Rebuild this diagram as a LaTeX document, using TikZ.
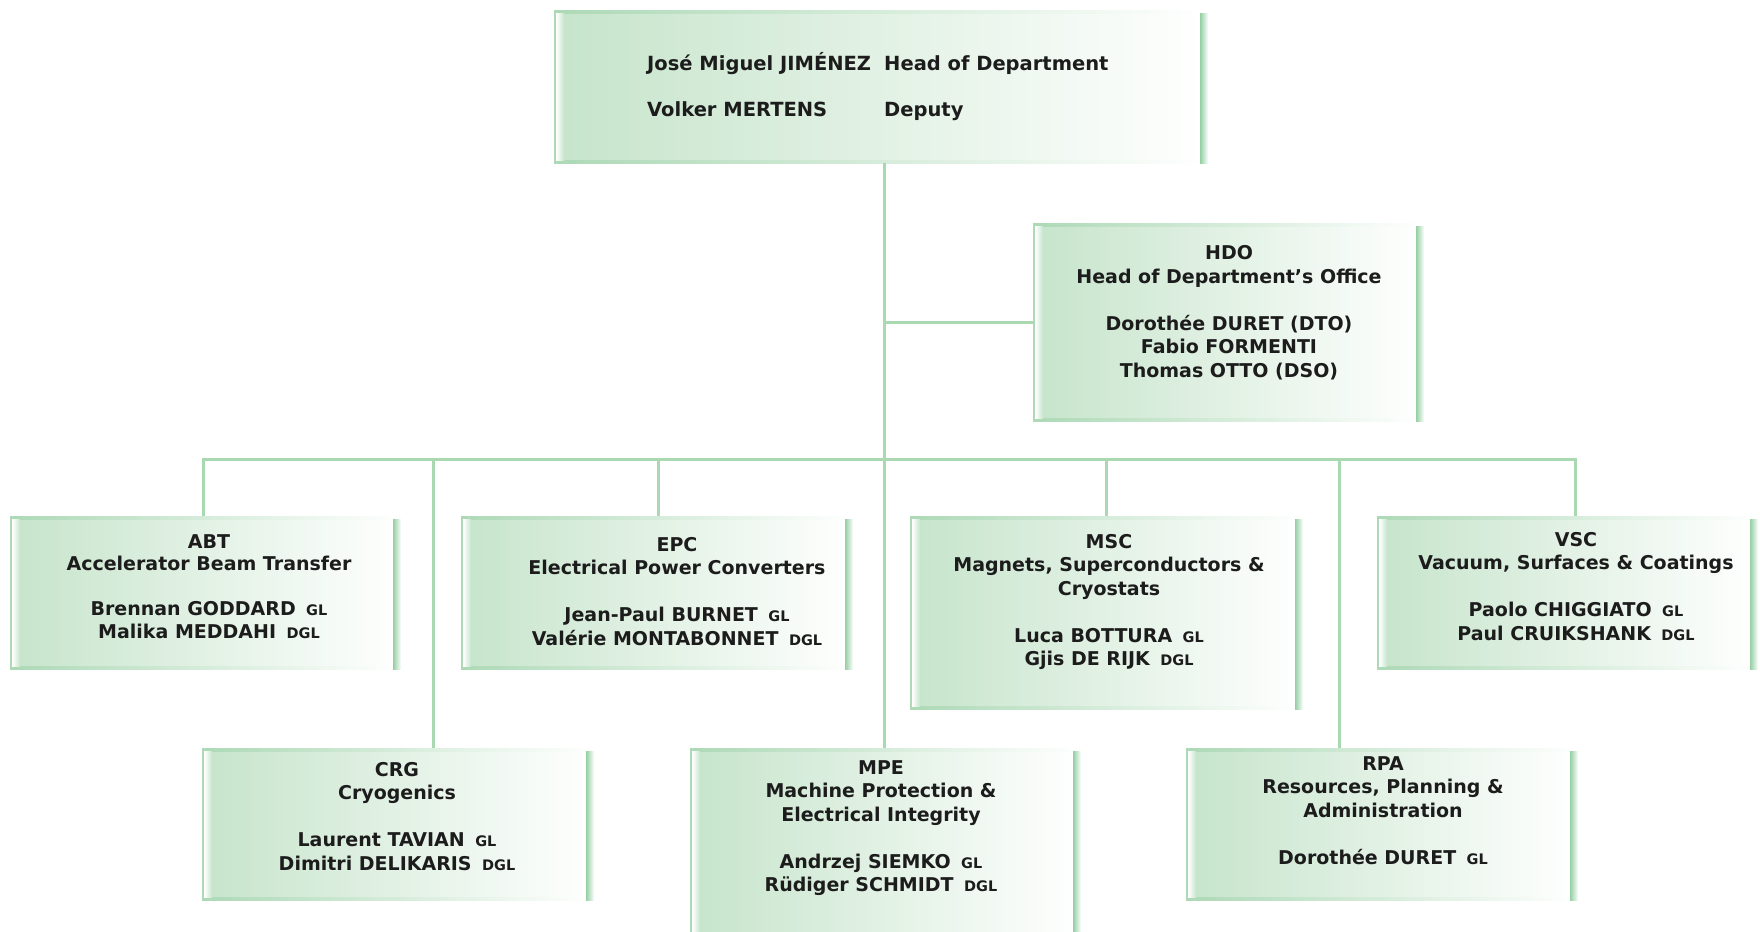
\documentclass[tikz,border=0pt]{standalone}
\usepackage{fontspec}
\setmainfont{DejaVu Sans}
\definecolor{boxgreen}{HTML}{C6E4CB}
\definecolor{edgegreen}{HTML}{ADD9B6}
\definecolor{banddark}{HTML}{98D0A6}
\definecolor{linegreen}{HTML}{A9D8B1}
\definecolor{ink}{HTML}{1C1C1C}
\newcommand{\rolesz}[1]{\hspace{0.55em}{\fontsize{14.5}{15}\selectfont #1}}
\tikzset{
  unitbox/.style={left color=boxgreen, right color=white, inner sep=0pt, anchor=north west,
    path picture={
      \shade[left color=edgegreen, right color=white]
        (path picture bounding box.north west) rectangle ([yshift=-3pt]path picture bounding box.north east);
      \shade[left color=edgegreen, right color=white]
        ([yshift=2.5pt]path picture bounding box.south west) rectangle (path picture bounding box.south east);
      \fill[edgegreen]
        (path picture bounding box.north west) rectangle ([xshift=2pt]path picture bounding box.south west);
      \shade[left color=white, right color=boxgreen]
        ([xshift=2pt,yshift=-3pt]path picture bounding box.north west) rectangle ([xshift=10pt,yshift=2.5pt]path picture bounding box.south west);
      \fill[white]
        ([xshift=-9pt]path picture bounding box.north east) rectangle (path picture bounding box.south east);
      \shade[left color=banddark, right color=white]
        ([xshift=-8pt,yshift=-3pt]path picture bounding box.north east) rectangle (path picture bounding box.south east);
    }},
  unittext/.style={text=ink, font=\bfseries\fontsize{19}{23.5}\selectfont, align=center, inner sep=0pt},
  headtext/.style={text=ink, font=\bfseries\fontsize{19.5}{23.5}\selectfont, anchor=base west, inner sep=0pt},
  conn/.style={draw=linegreen, line width=3pt}
}
\begin{document}
\begin{tikzpicture}[x=1pt,y=-1pt]
\useasboundingbox (0,0) rectangle (1760,931);
% boxes
\node[unitbox, minimum width=654pt, minimum height=153pt] (top) at (554,10) {};
\node[unitbox, minimum width=391pt, minimum height=198pt] (hdo) at (1033,223) {};
\node[unitbox, minimum width=391pt, minimum height=153pt] (abt) at (10,516) {};
\node[unitbox, minimum width=392pt, minimum height=153pt] (epc) at (461,516) {};
\node[unitbox, minimum width=393pt, minimum height=193pt] (msc) at (910,516) {};
\node[unitbox, minimum width=381pt, minimum height=153pt] (vsc) at (1377,516) {};
\node[unitbox, minimum width=392pt, minimum height=152pt] (crg) at (202,748) {};
\node[unitbox, minimum width=391pt, minimum height=200pt] (mpe) at (690,748) {};
\node[unitbox, minimum width=392pt, minimum height=152pt] (rpa) at (1186,748) {};
% connectors
\coordinate (bus) at (884,459);
\coordinate (abtIn) at (203,516);
\coordinate (crgIn) at (433,748);
\coordinate (epcIn) at (658,516);
\coordinate (mscIn) at (1106,516);
\coordinate (rpaIn) at (1339,748);
\coordinate (vscIn) at (1575,516);
\coordinate (topOut) at (884,163);
\coordinate (mpeIn) at (884,748);
\draw[conn] (topOut) -- (mpeIn);
\draw[conn] (hdo.west) -- (hdo.west -| topOut);
\draw[conn] (abtIn) |- (bus) -| (vscIn);
\draw[conn] (crgIn) |- (bus);
\draw[conn] (epcIn) |- (bus);
\draw[conn] (mscIn) |- (bus);
\draw[conn] (rpaIn) |- (bus);
% head texts
\node[headtext] (h1) at (647,71) {José Miguel JIMÉNEZ};
\node[headtext] (h2) at (884,71) {Head of Department};
\node[headtext] (h3) at (647,117) {Volker MERTENS};
\node[headtext] (h4) at (884,117) {Deputy};
% unit texts
\node[unittext, anchor=north] (hdoT) at (1229,245.5) {HDO\\Head of Department’s Office\\[23.5pt]Dorothée DURET (DTO)\\Fabio FORMENTI\\Thomas OTTO (DSO)};
\node[unittext, anchor=north, font=\bfseries\fontsize{19}{22.5}\selectfont] (abtT) at (209,534) {ABT\\Accelerator Beam Transfer\\[22.5pt]Brennan GODDARD\rolesz{GL}\\Malika MEDDAHI\rolesz{DGL}};
\node[unittext, anchor=north] (epcT) at (677,537) {EPC\\Electrical Power Converters\\[23.5pt]Jean-Paul BURNET\rolesz{GL}\\Valérie MONTABONNET\rolesz{DGL}};
\node[unittext, anchor=north] (mscT) at (1109,534) {MSC\\Magnets, Superconductors \&\\Cryostats\\[23.5pt]Luca BOTTURA\rolesz{GL}\\Gjis DE RIJK\rolesz{DGL}};
\node[unittext, anchor=north] (vscT) at (1576,532) {VSC\\Vacuum, Surfaces \& Coatings\\[23.5pt]Paolo CHIGGIATO\rolesz{GL}\\Paul CRUIKSHANK\rolesz{DGL}};
\node[unittext, anchor=north] (crgT) at (397,762) {CRG\\Cryogenics\\[23.5pt]Laurent TAVIAN\rolesz{GL}\\Dimitri DELIKARIS\rolesz{DGL}};
\node[unittext, anchor=north] (mpeT) at (881,760) {MPE\\Machine Protection \&\\Electrical Integrity\\[23.5pt]Andrzej SIEMKO\rolesz{GL}\\Rüdiger SCHMIDT\rolesz{DGL}};
\node[unittext, anchor=north] (rpaT) at (1383,756) {RPA\\Resources, Planning \&\\Administration\\[23.5pt]Dorothée DURET\rolesz{GL}};
\end{tikzpicture}
\end{document}
